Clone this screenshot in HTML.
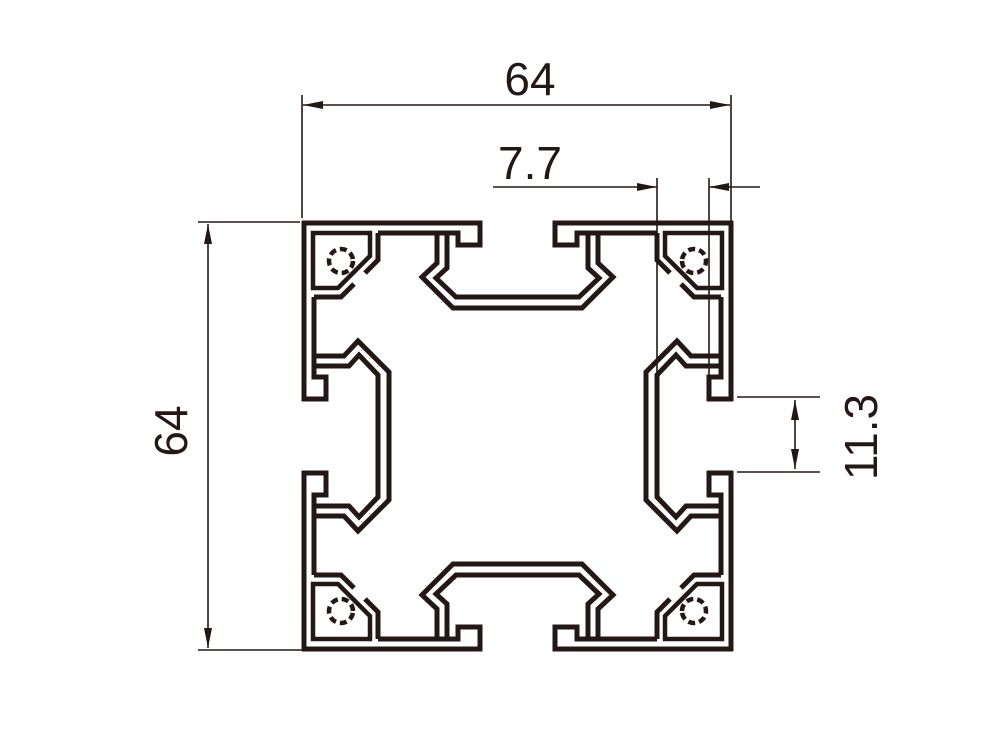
<!DOCTYPE html>
<html><head><meta charset="utf-8"><style>
html,body{margin:0;padding:0;background:#fff;}
svg{display:block;}
text{font-family:"Liberation Sans",Arial,sans-serif;fill:#231815;}
</style></head><body>
<svg width="1000" height="750" viewBox="0 0 1000 750" xmlns="http://www.w3.org/2000/svg">
<defs>
<g id="half" fill="none" stroke="#231815" stroke-width="5" stroke-linejoin="miter">
  <path d="M302,223 L480,223 L480,245 L458,245 L458,233 L437,233 L437,263 L422,277 L453,308 L518,308"/>
  <path d="M447,233 L447,268 L436,278 L456,297 L518,297"/>
  <path d="M378,233 L437,233"/>
  <path d="M378,233 L378,260 L365,273"/>
</g>
<g id="corner" fill="none" stroke="#231815" stroke-width="4.5">
  <path d="M313,233 L370,233 L370,256 L338,288 L313,288 Z"/>
  <circle cx="341" cy="261" r="12" stroke-dasharray="7 4"/>
</g>
<g id="quad">
  <use href="#half"/>
  <use href="#half" transform="matrix(0,1,1,0,81,-81)"/>
  <use href="#corner"/>
</g>
<marker id="ab" viewBox="0 0 20 8" refX="20" refY="4" markerWidth="20" markerHeight="8" markerUnits="userSpaceOnUse" orient="auto">
  <path d="M0,0 L20,4 L0,8 Z" fill="#231815"/>
</marker>
</defs>

<use href="#quad"/>
<use href="#quad" transform="matrix(-1,0,0,1,1035,0)"/>
<use href="#quad" transform="matrix(1,0,0,-1,0,872)"/>
<use href="#quad" transform="matrix(-1,0,0,-1,1035,872)"/>

<g stroke="#231815" stroke-width="1.6" fill="none">
  <line x1="302" y1="95" x2="302" y2="218"/>
  <line x1="731" y1="95" x2="731" y2="240"/>
  <line x1="320" y1="105" x2="713" y2="105"/>
  <line x1="322" y1="105" x2="303" y2="105" marker-end="url(#ab)"/>
  <line x1="711" y1="105" x2="730" y2="105" marker-end="url(#ab)"/>
  <line x1="493" y1="187" x2="657" y2="187" marker-end="url(#ab)"/>
  <line x1="760" y1="187" x2="709" y2="187" marker-end="url(#ab)"/>
  <line x1="657" y1="178" x2="657" y2="500"/>
  <line x1="709" y1="178" x2="709" y2="380"/>
  <line x1="198" y1="222" x2="300" y2="222"/>
  <line x1="198" y1="650" x2="305" y2="650"/>
  <line x1="208" y1="245" x2="208" y2="628"/>
  <line x1="208" y1="245" x2="208" y2="224" marker-end="url(#ab)"/>
  <line x1="208" y1="628" x2="208" y2="648" marker-end="url(#ab)"/>
  <line x1="737" y1="397" x2="820" y2="397"/>
  <line x1="737" y1="472" x2="820" y2="472"/>
  <line x1="795" y1="420" x2="795" y2="449"/>
  <line x1="795" y1="420" x2="795" y2="400" marker-end="url(#ab)"/>
  <line x1="795" y1="449" x2="795" y2="469" marker-end="url(#ab)"/>
</g>

<text x="530" y="95" font-size="46" text-anchor="middle">64</text>
<text x="530" y="179" font-size="46" text-anchor="middle">7.7</text>
<text x="0" y="0" font-size="46" text-anchor="middle" transform="translate(187,431) rotate(-90)">64</text>
<text x="0" y="0" font-size="46" text-anchor="middle" transform="translate(877,437) rotate(-90)">11.3</text>
</svg>
</body></html>
